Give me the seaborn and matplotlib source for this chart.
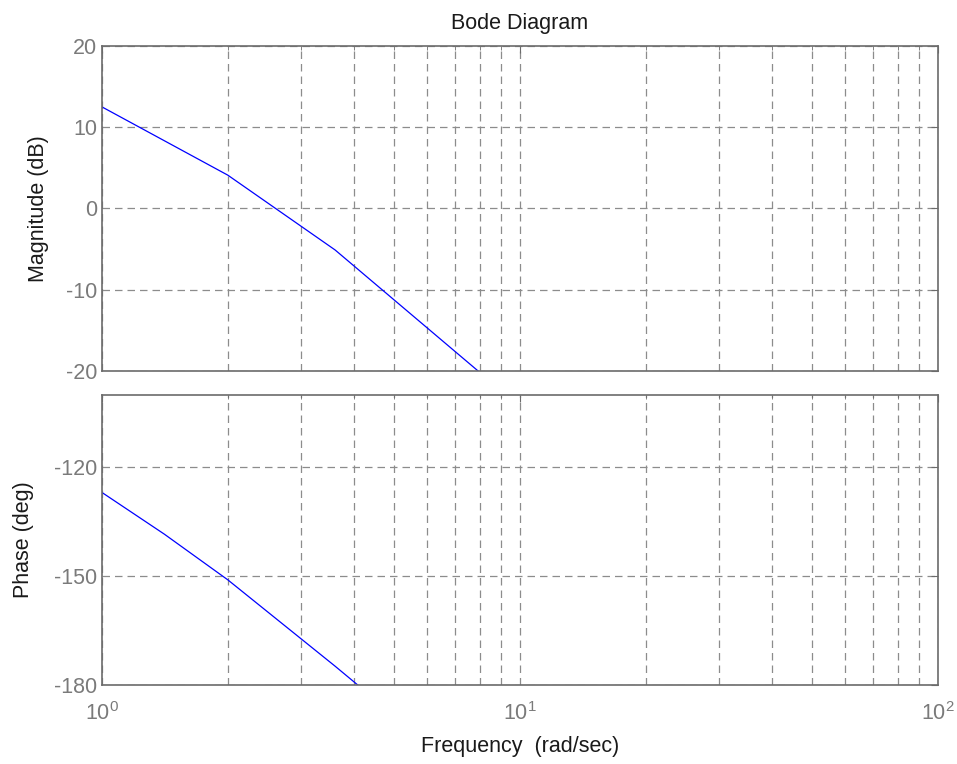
import pandas as pd
import seaborn as sns
import matplotlib.pyplot as plt
from matplotlib.ticker import LogLocator, NullFormatter

# values
mag_freq = [1.0, 2.0, 3.61, 7.98]
mag_db = [12.5, 4.1, -5.1, -20.1]

phase_freq = [1.0, 1.41, 2.0, 3.61, 4.12]
phase_deg = [-126.9, -138.4, -151.0, -174.8, -180.3]

mag_ticks = [-20, -10, 0, 10, 20]
phase_ticks = [-180, -150, -120]

sns.set_style("white")
plt.rcParams['font.family'] = ['Liberation Sans', 'DejaVu Sans']
plt.rcParams['mathtext.default'] = 'regular'

axis_grey = "#6b6b6b"
text_grey = "#7a7a7a"
fs = 15.5

fig = plt.figure(figsize=(9.57, 7.64), dpi=100)
ax1 = fig.add_axes([0.1066, 0.5144, 0.8736, 0.4254])
ax2 = fig.add_axes([0.1066, 0.1034, 0.8736, 0.3796])

mag = pd.DataFrame({"w": mag_freq, "db": mag_db})
ph = pd.DataFrame({"w": phase_freq, "deg": phase_deg})

sns.lineplot(data=mag, x="w", y="db", ax=ax1, color="#0000ff", linewidth=0.9)
sns.lineplot(data=ph, x="w", y="deg", ax=ax2, color="#0000ff", linewidth=0.9)

for ax in (ax1, ax2):
    ax.set_xscale("log")
    ax.set_xlim(1, 100)
    ax.xaxis.set_major_locator(LogLocator(base=10))
    ax.xaxis.set_minor_locator(LogLocator(base=10, subs=range(2, 10)))
    ax.xaxis.set_minor_formatter(NullFormatter())
    ax.grid(True, which="both", axis="x", linestyle=(0, (6, 4)), color="#8c8c8c", linewidth=0.9)
    ax.grid(True, which="major", axis="y", linestyle=(0, (6, 4)), color="#8c8c8c", linewidth=0.9)
    ax.tick_params(which="both", direction="in", top=True, right=True,
                   colors=axis_grey, labelcolor=text_grey, labelsize=fs)
    ax.tick_params(which="major", length=5)
    ax.tick_params(which="minor", length=3)
    for s in ax.spines.values():
        s.set_color(axis_grey)
        s.set_linewidth(1.2)
    ax.set_axisbelow(True)

ax1.set_ylim(-20, 20)
ax1.set_yticks(mag_ticks)
ax1.set_yticklabels([str(t) for t in mag_ticks])
ax1.tick_params(axis="x", labelbottom=False)
ax1.set_xlabel("")
ax1.set_ylabel("Magnitude (dB)", fontsize=fs, color="#1a1a1a", labelpad=12)
ax1.set_title("Bode Diagram", fontsize=fs, color="#1a1a1a", pad=12)

ax2.set_ylim(-180, -100)
ax2.set_yticks(phase_ticks)
ax2.set_yticklabels([str(t) for t in phase_ticks])
ax2.set_ylabel("Phase (deg)", fontsize=fs, color="#1a1a1a", labelpad=14)
ax2.set_xlabel("Frequency  (rad/sec)", fontsize=fs, color="#1a1a1a", labelpad=8)
ax2.tick_params(axis="x", pad=12)

fig.savefig("out.png", dpi=100)
